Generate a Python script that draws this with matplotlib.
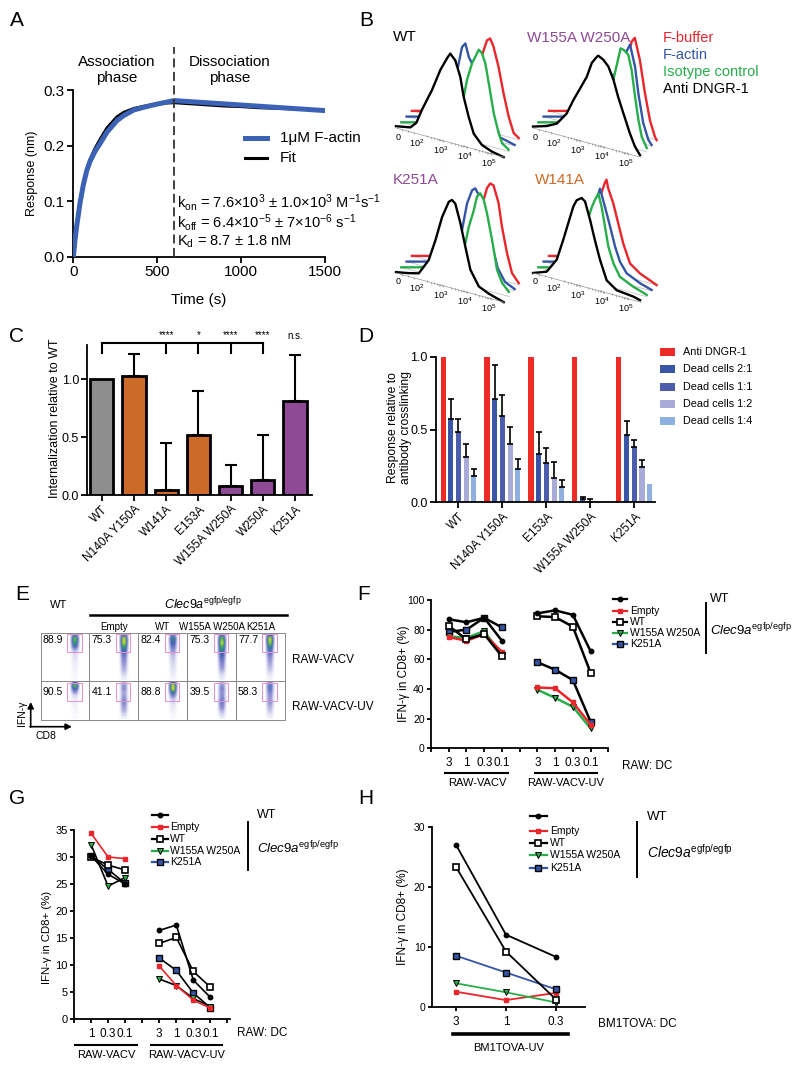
import numpy as np
import matplotlib
matplotlib.use("Agg")
import matplotlib.pyplot as plt
from matplotlib.transforms import Affine2D, blended_transform_factory
from matplotlib.patches import Rectangle, FancyArrowPatch
from matplotlib.colors import LinearSegmentedColormap

plt.rcParams.update({
    "font.family": ["Liberation Sans", "DejaVu Sans"],
    "mathtext.fontset": "custom",
    "mathtext.rm": "Liberation Sans",
    "mathtext.it": "Liberation Sans:italic",
    "mathtext.default": "regular",
    "axes.linewidth": 1.3,
    "xtick.major.width": 1.3, "ytick.major.width": 1.3,
    "xtick.major.size": 4, "ytick.major.size": 4,
    "xtick.direction": "out", "ytick.direction": "out",
})

# ======================= DATA =======================
# --- A: binding kinetics
a_time = [0, 10, 20, 40, 60, 80, 100, 130, 160, 200, 260, 300, 360, 420, 460, 520, 600,
          700, 800, 900, 1000, 1100, 1200, 1300, 1400, 1500]
a_actin = [0, 0.03, 0.055, 0.097, 0.13, 0.155, 0.172, 0.19, 0.204, 0.224, 0.245, 0.254, 0.264,
           0.269, 0.272, 0.276, 0.281, 0.279, 0.277, 0.275, 0.273, 0.271, 0.269, 0.267, 0.265, 0.263]
a_fit = [0, 0.029, 0.055, 0.098, 0.132, 0.158, 0.176, 0.196, 0.212, 0.232, 0.252, 0.26, 0.267,
         0.271, 0.273, 0.276, 0.277, 0.275, 0.273, 0.271, 0.27, 0.268, 0.267, 0.266, 0.265, 0.264]
a_switch_time = 600

# --- B: offset flow histograms, (position in decades, relative height)
b_wt_black = [(0, 0.02), (0.6, 0.05), (0.85, 0.12), (1.08, 0.28), (1.5, 0.53), (1.85, 0.78), (2.13, 0.93),
              (2.26, 0.99), (2.47, 0.93), (2.68, 0.76), (2.82, 0.55), (3.03, 0.34), (3.24, 0.17),
              (3.58, 0.07), (4.0, 0.026), (4.49, 0.0)]
b_wt_green = [(0, 0), (1.0, 0.072), (1.5, 0.15), (2.0, 0.3), (2.3, 0.38), (2.6, 0.47), (2.74, 0.67),
              (2.95, 0.87), (3.23, 1.04), (3.36, 1.01), (3.5, 0.91), (3.67, 0.66), (3.85, 0.38),
              (4.06, 0.17), (4.2, 0.07), (4.47, 0.02)]
b_wt_blue = [(0, 0), (1.0, 0.072), (1.4, 0.15), (1.8, 0.35), (2.1, 0.65), (2.31, 0.94), (2.45, 0.99),
             (2.59, 0.85), (2.72, 0.79), (3.0, 0.75), (3.3, 0.55), (3.6, 0.25), (3.9, 0.05), (4.5, 0.01)]
b_wt_red = [(0, 0), (1.0, 0.072), (1.5, 0.15), (2.0, 0.3), (2.5, 0.5), (2.8, 0.7), (2.99, 0.89),
            (3.13, 1.01), (3.26, 1.04), (3.4, 0.96), (3.61, 0.75), (3.82, 0.47), (4.03, 0.23),
            (4.24, 0.06), (4.45, 0.02)]

b_w155_black = [(0, 0.016), (0.57, 0.063), (0.99, 0.12), (1.4, 0.26), (1.68, 0.43), (1.96, 0.58),
                (2.24, 0.73), (2.45, 0.9), (2.65, 0.98), (2.72, 1.0), (2.93, 0.97), (3.14, 0.91),
                (3.35, 0.78), (3.55, 0.6), (3.76, 0.44), (4.04, 0.23), (4.25, 0.1), (4.46, 0.02)]
b_w155_green = [(0, 0), (1.0, 0.072), (1.5, 0.15), (2.0, 0.35), (2.5, 0.55), (2.9, 0.65), (3.12, 0.69),
                (3.43, 1.07), (3.57, 1.06), (3.75, 1.02), (3.89, 0.86), (4.03, 0.58), (4.17, 0.33),
                (4.31, 0.15), (4.52, 0.04)]
b_w155_blue = [(0, 0), (1.0, 0.072), (1.5, 0.15), (2.0, 0.35), (2.5, 0.55), (3.0, 0.7), (3.3, 0.85),
               (3.45, 0.97), (3.6, 1.06), (3.81, 0.83), (3.95, 0.54), (4.15, 0.23), (4.36, 0.06), (4.5, 0.01)]
b_w155_red = [(0, 0), (1.0, 0.072), (1.5, 0.15), (2.0, 0.35), (2.5, 0.5), (3.0, 0.6), (3.3, 0.85),
              (3.45, 1.02), (3.58, 1.07), (3.79, 0.84), (4.0, 0.49), (4.21, 0.2), (4.42, 0.03), (4.49, 0.0)]

b_k251_black = [(0, 0.01), (0.5, 0.035), (0.95, 0.065), (1.36, 0.24), (1.64, 0.48), (1.92, 0.76),
                (2.2, 0.95), (2.33, 0.98), (2.47, 0.95), (2.68, 0.75), (2.89, 0.5), (3.1, 0.26),
                (3.45, 0.1), (3.86, 0.05), (4.49, 0.0)]
b_k251_green = [(0, 0), (1.0, 0.072), (1.5, 0.15), (2.0, 0.28), (2.4, 0.38), (2.67, 0.46), (2.81, 0.65),
                (3.02, 0.85), (3.15, 1.01), (3.29, 1.06), (3.43, 1.0), (3.57, 0.86), (3.78, 0.58),
                (3.99, 0.26), (4.2, 0.13), (4.48, 0.05)]
b_k251_blue = [(0, 0), (1.0, 0.072), (1.5, 0.15), (1.9, 0.25), (2.31, 0.52), (2.52, 0.83), (2.73, 0.99),
               (2.86, 1.02), (2.98, 0.97), (3.2, 0.85), (3.5, 0.5), (3.8, 0.2), (4.1, 0.07), (4.5, 0.02)]
b_k251_red = [(0, 0), (1.0, 0.072), (1.5, 0.15), (2.0, 0.3), (2.5, 0.5), (2.8, 0.7), (2.99, 0.84),
              (3.13, 0.98), (3.26, 1.04), (3.4, 1.03), (3.61, 0.85), (3.75, 0.6), (3.96, 0.32),
              (4.17, 0.11), (4.45, 0.02)]

b_w141_black = [(0, 0.0), (0.57, 0.056), (0.99, 0.22), (1.26, 0.46), (1.47, 0.66), (1.68, 0.86),
                (1.82, 0.94), (2.03, 0.98), (2.17, 0.95), (2.38, 0.76), (2.58, 0.55), (2.79, 0.35),
                (3.07, 0.14), (3.49, 0.06), (4.18, 0.04), (4.46, 0.02)]
b_w141_green = [(0, 0), (1.0, 0.072), (1.4, 0.15), (1.8, 0.45), (2.0, 0.62), (2.23, 0.83), (2.36, 0.92),
                (2.5, 1.0), (2.64, 0.86), (2.78, 0.65), (2.92, 0.44), (3.13, 0.27), (3.4, 0.14),
                (3.96, 0.07), (4.52, 0.02)]
b_w141_blue = [(0, 0), (1.0, 0.072), (1.4, 0.15), (1.8, 0.5), (2.1, 0.75), (2.35, 0.98), (2.56, 0.79),
               (2.77, 0.59), (2.98, 0.38), (3.18, 0.23), (3.46, 0.12), (4.02, 0.05), (4.5, 0.01)]
b_w141_red = [(0, 0), (1.0, 0.072), (1.4, 0.15), (1.8, 0.5), (2.1, 0.78), (2.33, 0.98), (2.4, 1.02),
              (2.47, 0.93), (2.68, 0.78), (2.89, 0.57), (3.1, 0.36), (3.38, 0.16), (3.79, 0.08), (4.49, 0.0)]
b_titles = ["WT", "W155A W250A", "K251A", "W141A"]
b_axis_labels = ["0", "$10^2$", "$10^3$", "$10^4$", "$10^5$"]
b_legend = ["F-buffer", "F-actin", "Isotype control", "Anti DNGR-1"]

# --- C: internalization
c_labels = ["WT", "N140A Y150A", "W141A", "E153A", "W155A W250A", "W250A", "K251A"]
c_values = [1.0, 1.03, 0.04, 0.52, 0.08, 0.13, 0.81]
c_err = [0.0, 0.19, 0.41, 0.38, 0.18, 0.39, 0.40]
c_sig = ["", "", "****", "*", "****", "****", "n.s."]

# --- D: response relative to antibody crosslinking
d_groups = ["WT", "N140A Y150A", "E153A", "W155A W250A", "K251A"]
d_series = ["Anti DNGR-1", "Dead cells 2:1", "Dead cells 1:1", "Dead cells 1:2", "Dead cells 1:4"]
d_anti = [1.0, 1.0, 1.0, 1.0, 1.0]
d_21 = [0.57, 0.71, 0.33, 0.023, 0.46]
d_21_err = [0.14, 0.23, 0.15, 0.016, 0.10]
d_11 = [0.48, 0.59, 0.27, 0.003, 0.38]
d_11_err = [0.09, 0.15, 0.105, 0.017, 0.05]
d_12 = [0.31, 0.40, 0.167, 0.005, 0.24]
d_12_err = [0.09, 0.115, 0.11, 0.0, 0.048]
d_14 = [0.183, 0.231, 0.103, 0.005, 0.124]
d_14_err = [0.044, 0.069, 0.05, 0.0, 0.0]

# --- E: flow dot plots (IFN-gamma density profile, top -> bottom)
e_columns = ["WT", "Empty", "WT", "W155A W250A", "K251A"]
e_rows = ["RAW-VACV", "RAW-VACV-UV"]
e_pct_vacv = ["88.9", "75.3", "82.4", "75.3", "77.7"]
e_pct_uv = ["90.5", "41.1", "88.8", "39.5", "58.3"]
e_prof_vacv = [
    [0.5, 0.9, 0.8, 0.5, 0.2, 0.1, 0.08, 0.06, 0.05, 0.04, 0.03, 0.02],
    [0.6, 1.0, 1.0, 0.8, 0.6, 0.45, 0.35, 0.3, 0.25, 0.2, 0.12, 0.06],
    [0.4, 0.7, 0.6, 0.45, 0.3, 0.2, 0.15, 0.12, 0.1, 0.08, 0.05, 0.03],
    [0.5, 0.9, 1.0, 0.85, 0.7, 0.55, 0.45, 0.35, 0.3, 0.22, 0.12, 0.06],
    [0.6, 1.0, 0.95, 0.7, 0.5, 0.4, 0.3, 0.25, 0.2, 0.15, 0.08, 0.04]]
e_prof_uv = [
    [0.5, 0.9, 0.6, 0.3, 0.12, 0.06, 0.05, 0.05, 0.04, 0.03, 0.02, 0.02],
    [0.2, 0.3, 0.3, 0.25, 0.25, 0.3, 0.35, 0.3, 0.25, 0.2, 0.12, 0.05],
    [0.7, 1.0, 1.0, 0.7, 0.4, 0.2, 0.12, 0.08, 0.06, 0.05, 0.03, 0.02],
    [0.2, 0.3, 0.35, 0.3, 0.3, 0.35, 0.4, 0.35, 0.3, 0.2, 0.12, 0.05],
    [0.3, 0.45, 0.45, 0.35, 0.3, 0.28, 0.3, 0.25, 0.2, 0.15, 0.08, 0.04]]

# --- F
f_ratio = ["3", "1", "0.3", "0.1"]
f_x_vacv = [1, 2, 3, 4]
f_x_uv = [6, 7, 8, 9]
f_wt_vacv = [87, 85, 88, 72.5];      f_wt_uv = [91, 93, 90, 65.5]
f_empty_vacv = [75, 72.5, 77, 65];   f_empty_uv = [41, 40.5, 31, 16]
f_wte_vacv = [82.5, 73.5, 77, 62];   f_wte_uv = [89, 88.5, 82, 51]
f_w155_vacv = [75.5, 74.5, 79, 63];  f_w155_uv = [39.5, 34, 28, 13.5]
f_k251_vacv = [78.5, 80, 88, 81.5];  f_k251_uv = [58, 53, 46, 18]

# --- G
g_ratio_vacv = ["1", "0.3", "0.1"]
g_ratio_uv = ["3", "1", "0.3", "0.1"]
g_x_vacv = [2, 3, 4]
g_x_uv = [6, 7, 8, 9]
g_wt_vacv = [30.2, 26.8, 25.0];    g_wt_uv = [16.4, 17.4, 7.2, 4.0]
g_empty_vacv = [34.4, 30.0, 29.7]; g_empty_uv = [9.8, 6.2, 3.5, 2.0]
g_wte_vacv = [30.0, 28.5, 27.6];   g_wte_uv = [14.0, 15.1, 8.8, 5.9]
g_w155_vacv = [32.3, 24.6, 26.2];  g_w155_uv = [7.4, 6.2, 3.8, 2.3]
g_k251_vacv = [30.2, 27.7, 25.1];  g_k251_uv = [11.3, 9.0, 4.8, 2.1]

# --- H
h_ratio = ["3", "1", "0.3"]
h_x = [1, 2, 3]
h_wt = [27.1, 12.1, 8.4]
h_empty = [2.6, 1.2, 2.4]
h_wte = [23.4, 9.3, 1.3]
h_w155 = [4.0, 2.5, 0.8]
h_k251 = [8.6, 5.8, 3.0]
legend_labels = ["", "Empty", "WT", "W155A W250A", "K251A"]

# ======================= STYLE =======================
BLUE_A = "#3c62b6"
RED = "#e8262b"
BLUE = "#3455a6"
GREEN = "#27ae4a"
PURPLE = "#8e4a95"
ORANGE = "#cb6a29"
GRAY = "#8e8e8e"

W, H = 800, 1067
fig = plt.figure(figsize=(W / 100, H / 100), dpi=100)
ov = fig.add_axes([0, 0, 1, 1])
ov.set_xlim(0, W); ov.set_ylim(H, 0); ov.axis("off"); ov.set_zorder(10)


def axpx(x0, y0, x1, y1):
    a = fig.add_axes([x0 / W, 1 - y1 / H, (x1 - x0) / W, (y1 - y0) / H])
    a.set_facecolor("none")
    return a


def txt(x, y, s, **kw):
    kw.setdefault("va", "center")
    kw.setdefault("ha", "left")
    ov.text(x, y, s, **kw)


def clean(ax):
    ax.spines["top"].set_visible(False)
    ax.spines["right"].set_visible(False)


# panel letters
for lab, (x, y) in {"A": (17, 21), "B": (366, 21), "C": (17, 336), "D": (366, 336),
                    "E": (22, 595), "F": (364, 595), "G": (17, 799), "H": (366, 799)}.items():
    txt(x, y, lab, fontsize=15, ha="center")

# ======================= A =======================
axA = axpx(73.3, 90, 325, 257)
axA.plot(a_time, a_fit, color="black", lw=2.0, zorder=2)
axA.plot(a_time, a_actin, color=BLUE_A, lw=3.6, zorder=3)
axA.plot([a_switch_time, a_switch_time], [0, 0.377], color="#333333", lw=1.3,
         ls=(0, (5, 2.5)), clip_on=False, zorder=4)
axA.set_xlim(0, 1500); axA.set_ylim(0, 0.3)
axA.set_xticks([0, 500, 1000, 1500])
axA.set_yticks([0, 0.1, 0.2, 0.3])
axA.set_yticklabels(["0.0", "0.1", "0.2", "0.3"])
axA.tick_params(labelsize=11, pad=2)
clean(axA)
txt(32, 173, "Response (nm)", fontsize=9, rotation=90, ha="center")
txt(199, 300, "Time (s)", fontsize=11, ha="center")
txt(117, 70, "Association\nphase", fontsize=11, ha="center", linespacing=1.15)
txt(230, 70, "Dissociation\nphase", fontsize=11, ha="center", linespacing=1.15)
ov.plot([245, 267], [138, 138], color=BLUE_A, lw=3.6)
ov.plot([245, 267], [158, 158], color="black", lw=2.2)
txt(280, 138, "1μM F-actin", fontsize=11)
txt(280, 158, "Fit", fontsize=11)
txt(177, 202, r"k$_{on}$ = 7.6×10$^3$ ± 1.0×10$^3$ M$^{-1}$s$^{-1}$", fontsize=10.5)
txt(177, 222, r"k$_{off}$ = 6.4×10$^{-5}$ ± 7×10$^{-6}$ s$^{-1}$", fontsize=10.5)
txt(177, 242, r"K$_d$ = 8.7 ± 1.8 nM", fontsize=10.5)

# ======================= B =======================
b_panels = [
    ((396, 128), [b_wt_black, b_wt_green, b_wt_blue, b_wt_red]),
    ((533, 128), [b_w155_black, b_w155_green, b_w155_blue, b_w155_red]),
    ((396, 273), [b_k251_black, b_k251_green, b_k251_blue, b_k251_red]),
    ((533, 273), [b_w141_black, b_w141_green, b_w141_blue, b_w141_red]),
]
b_colors = ["black", GREEN, BLUE, RED]
DX, DY, HSC, SX, SY = 24.0, 6.5, 90.0, 5.3, 5.7
for (ox, oy), curves in b_panels:
    for i in [3, 2, 1, 0]:
        T = Affine2D.from_values(DX, DY, 0, -HSC, ox + i * SX, oy - i * SY) + ov.transData
        u = [p[0] for p in curves[i]]
        h = [p[1] for p in curves[i]]
        z = 5 + (3 - i)
        ov.fill(u + [u[-1], u[0]], h + [0, 0], facecolor="white", edgecolor="none",
                transform=T, zorder=z)
        if i > 0:
            ov.plot([0, 4.5], [0, 0], color="#b8b8b8", lw=0.5, transform=T, zorder=z + 0.05)
        ov.plot(u, h, color=b_colors[i], lw=1.7, transform=T, zorder=z + 0.1,
                solid_joinstyle="round")
    # diagonal axis of front histogram
    T0 = Affine2D.from_values(DX, DY, 0, -HSC, ox, oy) + ov.transData
    ov.plot([0, 4.5], [0, 0], color="#999999", lw=0.5, transform=T0, zorder=9)
    minor = [d + np.log10(k) for d in (1, 2, 3) for k in range(2, 10)] + [0.25, 0.5, 0.75]
    ov.plot(minor, [0.0] * len(minor), ls="none", marker="|", ms=1.8, mew=0.4,
            color="#777777", transform=T0, zorder=9)
    for k, lab in enumerate(b_axis_labels):
        px = ox + DX * k + (2 if k == 0 else -3)
        py = oy + DY * k + 9
        txt(px, py, lab, fontsize=6.5, ha="center", zorder=9)

txt(393, 37, b_titles[0], fontsize=11, color="black")
txt(527, 38, b_titles[1], fontsize=11, color=PURPLE)
txt(393, 180, b_titles[2], fontsize=11, color=PURPLE)
txt(535, 180, b_titles[3], fontsize=11, color=ORANGE)
for lab, col, y in zip(b_legend, [RED, BLUE, GREEN, "black"], [38, 55, 72, 89]):
    txt(663, y, lab, fontsize=10.5, color=col)

# ======================= C =======================
c_top = 1.3
axC = axpx(87.3, 495 - c_top * 115.7, 311.7, 495)
cx = np.arange(len(c_labels))
c_colors = [GRAY, ORANGE, ORANGE, ORANGE, PURPLE, PURPLE, PURPLE]
idx = [i for i in range(len(c_err)) if c_err[i] > 0]
axC.errorbar(cx[idx], np.array(c_values)[idx], yerr=[np.zeros(len(idx)), np.array(c_err)[idx]],
             fmt="none", ecolor="black", elinewidth=1.5, capsize=4, capthick=1.5, zorder=1)
axC.bar(cx, c_values, width=0.72, color=c_colors, edgecolor="black", linewidth=2, zorder=2)
axC.set_xlim(-0.45, 6.52); axC.set_ylim(0, c_top)
axC.set_yticks([0, 0.5, 1.0]); axC.set_yticklabels(["0.0", "0.5", "1.0"])
axC.set_xticks(cx)
axC.set_xticklabels(c_labels, rotation=45, ha="right", va="top", rotation_mode="anchor")
axC.tick_params(labelsize=9, pad=2)
axC.tick_params(axis="x", labelsize=8.5)
clean(axC)
br = [0, 2, 3, 4, 5]
axC.plot([0, 5], [1.316, 1.316], color="black", lw=1.5, clip_on=False)
for b in br:
    axC.plot([b, b], [1.316, 1.227], color="black", lw=1.5, clip_on=False)
for i, s in enumerate(c_sig):
    if s:
        axC.text(i, 1.385 if s != "n.s." else 1.37, s, fontsize=7, ha="center", va="center")
txt(55, 418, "Internalization relative to WT", fontsize=9, rotation=90, ha="center")

# ======================= D =======================
axD = axpx(436, 356.7, 655, 502.3)
gx = np.arange(len(d_groups))
d_vals = [d_anti, d_21, d_11, d_12, d_14]
d_errs = [None, d_21_err, d_11_err, d_12_err, d_14_err]
d_cols = ["#ee2b24", "#3a55a6", "#4b5dab", "#a8abd7", "#8fb1e2"]
for k in range(5):
    xk = gx + (k - 2) * 0.175
    axD.bar(xk, d_vals[k], width=0.115, color=d_cols[k], linewidth=0, clip_on=False, zorder=2)
    if d_errs[k] is not None:
        e = np.array(d_errs[k])
        m = e > 0
        axD.errorbar(xk[m], np.array(d_vals[k])[m], yerr=[np.zeros(m.sum()), e[m]], fmt="none",
                     ecolor="black", elinewidth=1.2, capsize=2, capthick=1.2, zorder=3)
axD.set_xlim(-0.51, 4.47); axD.set_ylim(0, 1.0)
axD.set_yticks([0, 0.5, 1.0]); axD.set_yticklabels(["0.0", "0.5", "1.0"])
axD.set_xticks(gx)
axD.set_xticklabels(d_groups, rotation=45, ha="right", va="top", rotation_mode="anchor")
axD.tick_params(labelsize=9, pad=2)
axD.tick_params(axis="x", labelsize=8.5)
clean(axD)
txt(399.5, 428, "Response relative to\nantibody crosslinking", fontsize=8.7, rotation=90,
    ha="center", multialignment="center", linespacing=1.15)
for k, (lab, col) in enumerate(zip(d_series, d_cols)):
    y = 352 + k * 17.3
    ov.add_patch(Rectangle((660, y - 4), 15, 8, facecolor=col, edgecolor="none"))
    txt(683, y, lab, fontsize=7.8)

# ======================= E =======================
cm = LinearSegmentedColormap.from_list("flow", [(0, "white"), (0.12, "#d4d4ee"), (0.3, "#8a8cd0"),
                                                 (0.55, "#4060b8"), (0.8, "#2aa068"), (1.0, "#d8dc30")])
e_x = [40.7, 89.3, 138.3, 187.3, 236, 285]
e_y = [632.7, 680.7, 720]
wts = [0.15, 0.5, 0.9, 1.0, 0.9, 0.5, 0.15]
for r, (profs, pcts) in enumerate([(e_prof_vacv, e_pct_vacv), (e_prof_uv, e_pct_uv)]):
    for c in range(5):
        ax = axpx(e_x[c], e_y[r], e_x[c + 1], e_y[r + 1])
        ax.set_xlim(0, 1); ax.set_ylim(0, 1)
        ax.set_xticks([]); ax.set_yticks([])
        for s in ax.spines.values():
            s.set_color("#8a8a8a"); s.set_linewidth(0.7)
        img = np.outer(profs[c], wts)
        ax.imshow(img, extent=(0.6, 0.8, 0.02, 0.98), aspect="auto", cmap=cm, vmin=0, vmax=1,
                  interpolation="bilinear", zorder=1)
        g0, g1 = (0.6, 0.973) if r == 0 else (0.49, 0.934)
        ax.add_patch(Rectangle((0.54, g0), 0.3, g1 - g0, fill=False, edgecolor="#e48fcf",
                               lw=0.7, zorder=3))
        ax.text(0.04, 0.85 if r == 0 else 0.72, pcts[c], fontsize=7.5, va="center", ha="left",
                transform=ax.transAxes)
txt(59, 605, "WT", fontsize=8, ha="center")
txt(203, 604, r"$\mathit{Clec9a}^{\mathrm{egfp/egfp}}$", fontsize=9, ha="center")
ov.plot([90, 287], [615, 615], color="black", lw=1.8)
for c in range(1, 5):
    txt((e_x[c] + e_x[c + 1]) / 2, 627, e_columns[c], fontsize=7, ha="center")
txt(292, 660, e_rows[0], fontsize=8.5)
txt(292, 707, e_rows[1], fontsize=8.5)
ov.add_patch(FancyArrowPatch((30.7, 727), (30.7, 702), arrowstyle="-|>", mutation_scale=9,
                             lw=1.2, color="black", shrinkA=0, shrinkB=0))
ov.add_patch(FancyArrowPatch((30.1, 726.7), (72, 726.7), arrowstyle="-|>", mutation_scale=9,
                             lw=1.2, color="black", shrinkA=0, shrinkB=0))
txt(22, 713, "IFN-γ", fontsize=7.5, rotation=90, ha="center")
txt(46, 736, "CD8", fontsize=7.5, ha="center")

# ======================= F/G/H common =======================
ms_wt = dict(marker="o", ms=3.2, mfc="black", mec="black")
ms_empty = dict(marker="s", ms=3.5, mfc=RED, mec=RED)
ms_wte = dict(marker="s", ms=5, mfc="white", mec="black", mew=1.2)
ms_w155 = dict(marker="v", ms=4.5, mfc=GREEN, mec="black", mew=0.7)
ms_k251 = dict(marker="s", ms=5, mfc=BLUE, mec="black", mew=1.0)
mstyles = [ms_wt, ms_empty, ms_wte, ms_w155, ms_k251]
leg_lines = ["black", RED, "black", GREEN, BLUE]


def draw_legend(x0, x1, xt, ys, fs):
    for lab, st, lc, y in zip(legend_labels, mstyles, leg_lines, ys):
        ov.plot([x0, x1], [y, y], color=lc, lw=1.6)
        ov.plot([(x0 + x1) / 2], [y], ls="none", **st)
        txt(xt, y, lab, fontsize=fs)


def side_labels(xb, y0, y1, xt, ywt, yclec, fs):
    ov.plot([xb, xb], [y0, y1], color="black", lw=1.4)
    txt(xt, ywt, "WT", fontsize=fs)
    txt(xt, yclec, r"$\mathit{Clec9a}^{\mathrm{egfp/egfp}}$", fontsize=fs + 0.5)


def under_bar(ax, xa, xb, yfrac, lw):
    tr = blended_transform_factory(ax.transData, ax.transAxes)
    ax.plot([xa, xb], [yfrac, yfrac], color="black", lw=lw, clip_on=False, transform=tr)


# ======================= F =======================
axF = axpx(431, 600, 608.3, 748.3)
f_sets = [(f_k251_vacv, f_k251_uv, ms_k251, "black"), (f_w155_vacv, f_w155_uv, ms_w155, GREEN),
          (f_empty_vacv, f_empty_uv, ms_empty, RED), (f_wte_vacv, f_wte_uv, ms_wte, "black"),
          (f_wt_vacv, f_wt_uv, ms_wt, "black")]
for yv, yu, st, lc in f_sets:
    axF.plot(f_x_vacv, yv, color=lc, lw=1.8, clip_on=False, **st)
    axF.plot(f_x_uv, yu, color=lc, lw=1.8, clip_on=False, **st)
axF.set_xlim(0, 10); axF.set_ylim(0, 100)
axF.set_xticks(range(0, 11)); axF.set_xticklabels([])
axF.set_yticks(range(0, 101, 20))
axF.tick_params(labelsize=7.5, pad=1.5, length=3)
clean(axF)
trF = blended_transform_factory(axF.transData, axF.transAxes)
for xs in (f_x_vacv, f_x_uv):
    for x, lab in zip(xs, f_ratio):
        axF.text(x, -0.097, lab, fontsize=8.5, ha="center", va="center", transform=trF)
under_bar(axF, 0.81, 4.33, -0.169, 1.5)
under_bar(axF, 5.89, 9.39, -0.169, 1.5)
axF.text(2.6, -0.236, "RAW-VACV", fontsize=8, ha="center", va="center", transform=trF)
axF.text(7.6, -0.236, "RAW-VACV-UV", fontsize=8, ha="center", va="center", transform=trF)
txt(621.7, 765.7, "RAW: DC", fontsize=8.5)
txt(404, 674, "IFN-γ in CD8+ (%)", fontsize=8.5, rotation=90, ha="center")
draw_legend(613, 627, 630, [599, 610.5, 621.7, 632.7, 644], 7.5)
side_labels(706, 603, 652.7, 710, 599, 630, 9)

# ======================= G =======================
axG = axpx(74, 830, 230, 1019)
g_sets = [(g_k251_vacv, g_k251_uv, ms_k251, "black"), (g_w155_vacv, g_w155_uv, ms_w155, "black"),
          (g_wte_vacv, g_wte_uv, ms_wte, "black"), (g_wt_vacv, g_wt_uv, ms_wt, "black"),
          (g_empty_vacv, g_empty_uv, ms_empty, RED)]
for yv, yu, st, lc in g_sets:
    axG.plot(g_x_vacv, yv, color=lc, lw=1.2, clip_on=False, **st)
    axG.plot(g_x_uv, yu, color=lc, lw=1.2, clip_on=False, **st)
axG.set_xlim(1, 10.15); axG.set_ylim(0, 35)
axG.set_xticks(range(1, 11)); axG.set_xticklabels([])
axG.set_yticks(range(0, 36, 5))
axG.tick_params(labelsize=8, pad=1.5, length=3)
clean(axG)
trG = blended_transform_factory(axG.transData, axG.transAxes)
for x, lab in zip(g_x_vacv, g_ratio_vacv):
    axG.text(x, -0.079, lab, fontsize=8.5, ha="center", va="center", transform=trG)
for x, lab in zip(g_x_uv, g_ratio_uv):
    axG.text(x, -0.079, lab, fontsize=8.5, ha="center", va="center", transform=trG)
under_bar(axG, 1.08, 4.72, -0.138, 1.5)
under_bar(axG, 5.51, 9.66, -0.138, 1.5)
axG.text(2.9, -0.19, "RAW-VACV", fontsize=8, ha="center", va="center", transform=trG)
axG.text(7.6, -0.19, "RAW-VACV-UV", fontsize=8, ha="center", va="center", transform=trG)
txt(236.7, 1033, "RAW: DC", fontsize=8.5)
txt(47, 937, "IFN-γ in CD8+ (%)", fontsize=8.2, rotation=90, ha="center")
draw_legend(151.7, 168.3, 170, [815, 827.3, 839.3, 850.7, 861.7], 7.5)
side_labels(248.3, 821.7, 870, 256.7, 815, 848.3, 9)

# ======================= H =======================
axH = axpx(431.7, 827.3, 585, 1007.3)
h_sets = [(h_empty, ms_empty, RED), (h_w155, ms_w155, GREEN), (h_k251, ms_k251, BLUE),
          (h_wte, ms_wte, "black"), (h_wt, ms_wt, "black")]
for yv, st, lc in h_sets:
    axH.plot(h_x, yv, color=lc, lw=1.3, clip_on=False, **st)
axH.set_xlim(0.515, 3.58); axH.set_ylim(0, 30)
axH.set_xticks(h_x); axH.set_xticklabels([])
axH.set_yticks([0, 10, 20, 30])
axH.tick_params(labelsize=7.5, pad=1.5, length=3)
clean(axH)
trH = blended_transform_factory(axH.transData, axH.transAxes)
for x, lab in zip(h_x, h_ratio):
    axH.text(x, -0.08, lab, fontsize=8.5, ha="center", va="center", transform=trH)
under_bar(axH, 0.94, 3.24, -0.15, 2.6)
axH.text(2.05, -0.228, "BM1TOVA-UV", fontsize=8, ha="center", va="center", transform=trH)
txt(598, 1024, "BM1TOVA: DC", fontsize=8.5)
txt(403, 917, "IFN-γ in CD8+ (%)", fontsize=8.5, rotation=90, ha="center")
draw_legend(530, 546.7, 550, [815.7, 831, 842.7, 855, 868.3], 7.5)
side_labels(637.3, 821.7, 877.3, 646.7, 816.7, 851.7, 9.5)

fig.savefig("out.png", dpi=100)
